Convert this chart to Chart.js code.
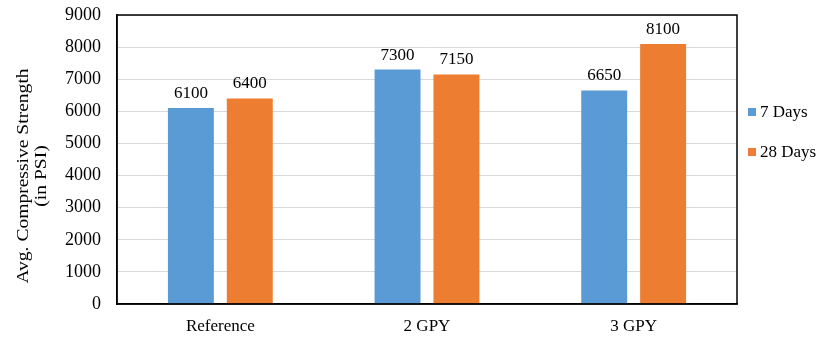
<!DOCTYPE html>
<html>
<head>
<meta charset="utf-8">
<style>
  html, body { margin: 0; padding: 0; background: #ffffff; }
  #wrap { width: 820px; height: 340px; }
</style>
<script src="https://cdn.jsdelivr.net/npm/chart.js@4"></script>
</head>
<body>
<div id="wrap"><canvas id="c" width="820" height="340"></canvas></div>
<script>
// Average compressive strength by mix, at 7 and 28 days
const categories = ['Reference', '2 GPY', '3 GPY'];
const days7 = [6100, 7300, 6650];
const days28 = [6400, 7150, 8100];
const seriesNames = ['7 Days', '28 Days'];
const yTicks = [0, 1000, 2000, 3000, 4000, 5000, 6000, 7000, 8000, 9000];
const yTitle = ['Avg. Compressive Strength', '(in PSI)'];

const FONT = '"Liberation Serif", "Times New Roman", serif';
const BLUE = '#5B9BD5';
const ORANGE = '#ED7D31';

// Value labels above each bar, frame around the plot, legend and axis title
const extras = {
  id: 'extras',
  afterDatasetsDraw(chart) {
    const ctx = chart.ctx;
    ctx.save();
    ctx.font = '17px ' + FONT;
    ctx.fillStyle = '#000';
    ctx.textAlign = 'center';
    ctx.textBaseline = 'alphabetic';
    chart.data.datasets.forEach((ds, i) => {
      chart.getDatasetMeta(i).data.forEach((bar, j) => {
        ctx.fillText(String(ds.data[j]), bar.x, bar.y - 10);
      });
    });
    ctx.restore();
  },
  afterDraw(chart) {
    const ctx = chart.ctx;
    const a = chart.chartArea;
    ctx.save();
    // plot frame
    ctx.strokeStyle = '#000';
    ctx.lineWidth = 1.5;
    ctx.strokeRect(a.left, a.top, a.right - a.left, a.bottom - a.top);

    // legend
    ctx.font = '17px ' + FONT;
    ctx.textBaseline = 'middle';
    ctx.textAlign = 'left';
    const rows = [112, 152];
    chart.data.datasets.forEach((ds, i) => {
      ctx.fillStyle = ds.backgroundColor;
      ctx.fillRect(748, rows[i] - 4, 8, 8);
      ctx.fillStyle = '#000';
      ctx.fillText(ds.label, 760, rows[i] + 1);
    });

    // rotated y-axis title, two lines, slightly stretched along its length
    ctx.translate(0, 176);
    ctx.rotate(-Math.PI / 2);
    ctx.scale(1.15, 1);
    ctx.textAlign = 'center';
    ctx.textBaseline = 'alphabetic';
    ctx.font = '17px ' + FONT;
    ctx.fillText(yTitle[0], 0, 28);
    ctx.fillText(yTitle[1], 0, 46);
    ctx.restore();
  }
};

new Chart(document.getElementById('c'), {
  type: 'bar',
  data: {
    labels: categories,
    datasets: [
      { label: seriesNames[0], data: days7, backgroundColor: BLUE },
      { label: seriesNames[1], data: days28, backgroundColor: ORANGE }
    ]
  },
  options: {
    responsive: false,
    animation: false,
    devicePixelRatio: 1,
    layout: { padding: { left: 0, right: 83, top: 15, bottom: 0 } },
    datasets: {
      bar: { categoryPercentage: 0.57, barPercentage: 0.78 }
    },
    plugins: {
      legend: { display: false },
      tooltip: { enabled: false }
    },
    scales: {
      x: {
        grid: { display: false, drawTicks: false },
        border: { display: true, color: '#000', width: 1.5 },
        ticks: { color: '#000', font: { family: FONT, size: 17 }, padding: 12 },
        afterFit(s) { s.height = 36; s.paddingLeft = 0; s.paddingRight = 0; }
      },
      y: {
        min: 0,
        max: 9000,
        afterBuildTicks(s) { s.ticks = yTicks.map(v => ({ value: v })); },
        grid: { color: '#d9d9d9', lineWidth: 1, drawTicks: false },
        border: { display: true, color: '#000', width: 1.5 },
        ticks: {
          color: '#000',
          font: { family: FONT, size: 18 },
          padding: 16,
          callback: (v) => String(v)
        },
        afterFit(s) { s.width = 117; s.paddingTop = 0; s.paddingBottom = 0; }
      }
    }
  },
  plugins: [extras]
});
</script>
</body>
</html>
